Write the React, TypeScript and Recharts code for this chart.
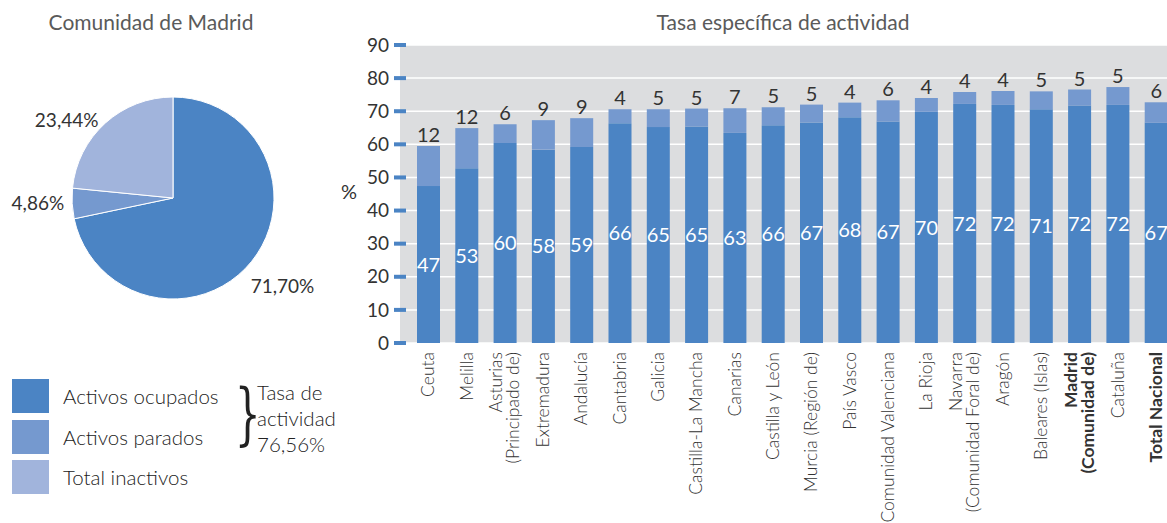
import { Bar, BarChart, CartesianGrid, Cell, LabelList, Pie, PieChart, XAxis, YAxis } from "recharts";

const REGIONS = [
  "Ceuta",
  "Melilla",
  "Asturias\n(Principado de)",
  "Extremadura",
  "Andalucía",
  "Cantabria",
  "Galicia",
  "Castilla-La Mancha",
  "Canarias",
  "Castilla y León",
  "Murcia (Región de)",
  "País Vasco",
  "Comunidad Valenciana",
  "La Rioja",
  "Navarra\n(Comunidad Foral de)",
  "Aragón",
  "Baleares (Islas)",
  "Madrid\n(Comunidad de)",
  "Cataluña",
  "Total Nacional",
];
const OCUPADOS = [47.4, 52.8, 60.4, 58.4, 59.2, 66.4, 65.2, 65.4, 63.45, 65.8, 66.6, 68.2, 66.9, 69.8, 72.2, 71.9, 70.6, 71.7, 71.9, 66.5];
const PARADOS = [12.1, 12.1, 5.7, 8.9, 8.7, 4.2, 5.4, 5.4, 7.45, 5.4, 5.4, 4.4, 6.4, 4.2, 3.6, 4.2, 5.4, 4.86, 5.4, 6.2];
const BOLD_REGIONS = ["Madrid\n(Comunidad de)", "Total Nacional"];
const Y_TICKS = [0, 10, 20, 30, 40, 50, 60, 70, 80, 90];

const PIE_NAMES = ["Activos ocupados", "Activos parados", "Total inactivos"];
const PIE_VALUES = [71.7, 4.86, 23.44];
const TASA_ACTIVIDAD = "76,56%";

const COLORS = ["#4b84c4", "#7599cf", "#a1b4dc"];
const FONT = "Lato, 'Open Sans', sans-serif";
const TEXT = "#333";
const TITLE = "#5a5a5a";
const PLOT_LEFT = 400;

const barData = REGIONS.map((region, i) => ({
  region,
  ocupados: OCUPADOS[i],
  parados: PARADOS[i],
}));
const pieData = PIE_NAMES.map((name, i) => ({ name, value: PIE_VALUES[i] }));

const fmtPct = (v: number) => v.toFixed(2).replace(".", ",") + "%";

function YTick(props: any) {
  const { y, payload } = props;
  return (
    <g>
      <rect x={PLOT_LEFT - 6} y={y - 2} width={12} height={4} fill={COLORS[0]} />
      <text x={PLOT_LEFT - 11} y={y} dy="0.35em" textAnchor="end" fontSize={19} fill={TEXT} fontFamily={FONT}>
        {payload.value}
      </text>
    </g>
  );
}

function XTick(props: any) {
  const { x, y, payload } = props;
  const lines = String(payload.value).split("\n");
  const bold = BOLD_REGIONS.includes(payload.value);
  const lh = 17;
  return (
    <g transform={`translate(${x},${y + 1}) rotate(-90)`}>
      <text
        textAnchor="end"
        fontSize={17.5}
        fill={TEXT}
        fontWeight={bold ? 700 : 300}
        fontFamily={FONT}
      >
        {lines.map((line, i) => (
          <tspan key={i} x={0} y={(i - (lines.length - 1) / 2) * lh} dy="0.35em">
            {line}
          </tspan>
        ))}
      </text>
    </g>
  );
}

function PieLabel(props: any) {
  const { cx, cy, midAngle, outerRadius, value } = props;
  const rad = Math.PI / 180;
  const cos = Math.cos(-midAngle * rad);
  const sin = Math.sin(-midAngle * rad);
  const left = cos < 0;
  const r = left ? outerRadius + 4 : outerRadius + 40;
  return (
    <text
      x={cx + r * cos - (left ? 4 : 0)}
      y={cy + r * sin}
      dy="0.35em"
      textAnchor={left ? "end" : "middle"}
      fontSize={19}
      fill={TEXT}
      fontFamily={FONT}
    >
      {fmtPct(value)}
    </text>
  );
}

export default function App() {
  return (
    <div
      style={{
        position: "fixed",
        left: 0,
        top: 0,
        width: 1167,
        height: 523,
        overflow: "hidden",
        background: "#fff",
        fontFamily: FONT,
        color: TEXT,
      }}
    >
      <div style={{ position: "absolute", left: 0, top: 0 }}>
        <BarChart
          width={1200}
          height={523}
          data={barData}
          margin={{ top: 45, right: 25, bottom: 10, left: 340 }}
          barSize={23}
        >
          <CartesianGrid fill="#dcdddf" stroke="#fff" strokeWidth={1.5} vertical={false} />
          <XAxis
            dataKey="region"
            height={170}
            interval={0}
            axisLine={false}
            tickLine={false}
            padding={{ left: 9, right: 0 }}
            tick={<XTick />}
          />
          <YAxis
            width={60}
            domain={[0, 90]}
            ticks={Y_TICKS}
            interval={0}
            axisLine={false}
            tickLine={false}
            tick={<YTick />}
          />
          <Bar dataKey="ocupados" stackId="a" fill={COLORS[0]} isAnimationActive={false}>
            <LabelList
              dataKey="ocupados"
              position="center"
              fill="#fff"
              fontSize={20}
              fontFamily={FONT}
              formatter={(v: any) => Math.round(Number(v))}
            />
          </Bar>
          <Bar dataKey="parados" stackId="a" fill={COLORS[1]} isAnimationActive={false}>
            <LabelList
              dataKey="parados"
              position="top"
              offset={4}
              fill={TEXT}
              fontSize={20}
              fontFamily={FONT}
              formatter={(v: any) => Math.round(Number(v))}
            />
          </Bar>
        </BarChart>
      </div>

      <div
        style={{
          position: "absolute",
          left: 583,
          width: 400,
          top: 9,
          textAlign: "center",
          fontSize: 21,
          color: TITLE,
        }}
      >
        Tasa específica de actividad
      </div>
      <div style={{ position: "absolute", left: 341, top: 179, fontSize: 20 }}>%</div>

      <div
        style={{
          position: "absolute",
          left: 0,
          width: 302,
          top: 9,
          textAlign: "center",
          fontSize: 21,
          color: TITLE,
        }}
      >
        Comunidad de Madrid
      </div>
      <div style={{ position: "absolute", left: 0, top: 0 }}>
        <PieChart width={340} height={330} margin={{ top: 0, right: 0, bottom: 0, left: 0 }}>
          <Pie
            data={pieData}
            dataKey="value"
            nameKey="name"
            cx={173}
            cy={198}
            outerRadius={101}
            startAngle={90}
            endAngle={-270}
            stroke="#fff"
            strokeWidth={1}
            label={<PieLabel />}
            labelLine={false}
            isAnimationActive={false}
          >
            {pieData.map((entry, i) => (
              <Cell key={entry.name} fill={COLORS[i]} />
            ))}
          </Pie>
        </PieChart>
      </div>

      {pieData.map((entry, i) => (
        <div key={entry.name} style={{ position: "absolute", left: 12, top: 379 + i * 40.5, display: "flex", alignItems: "center" }}>
          <div style={{ width: 37, height: 34, background: COLORS[i] }} />
          <span style={{ marginLeft: 14, fontSize: 20.5, fontWeight: 300, color: "#222" }}>{entry.name}</span>
        </div>
      ))}
      <div
        style={{
          position: "absolute",
          left: 226,
          top: 374,
          fontSize: 68,
          lineHeight: "80px",
          fontFamily: "'DejaVu Serif', serif",
          fontWeight: 300,
          color: "#222",
          transform: "scaleX(0.6)",
        }}
      >
        {"}"}
      </div>
      <div style={{ position: "absolute", left: 257, top: 379, fontSize: 20.5, lineHeight: "26px", fontWeight: 300, color: "#222" }}>
        Tasa de
        <br />
        actividad
        <br />
        {TASA_ACTIVIDAD}
      </div>
    </div>
  );
}
